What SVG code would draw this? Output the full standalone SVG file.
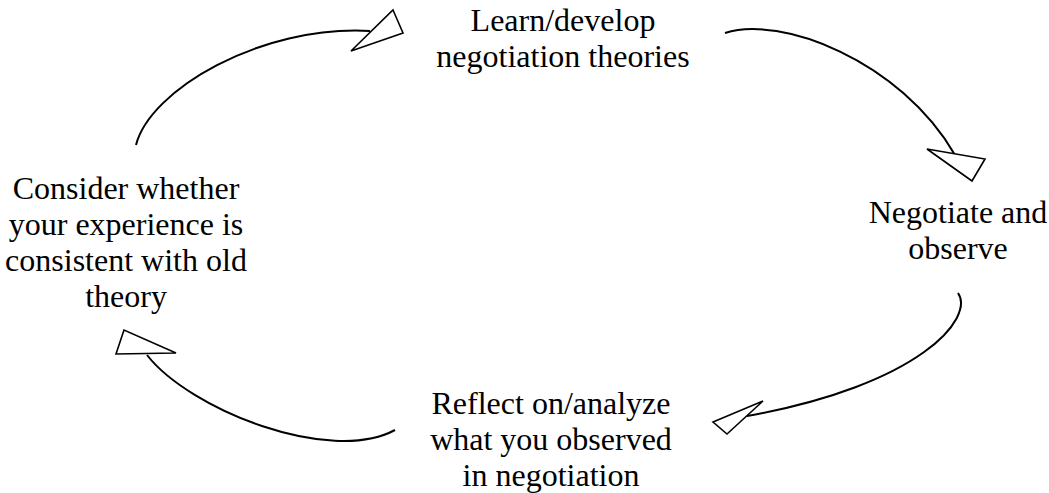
<svg xmlns="http://www.w3.org/2000/svg" width="1049" height="493" viewBox="0 0 1049 493">
<style>
.t{font-family:"Liberation Serif","Times New Roman",serif;font-size:32px;fill:#000;text-anchor:middle}
.c{fill:none;stroke:#000;stroke-width:2}
.h{fill:#fff;stroke:#000;stroke-width:1.6;stroke-linejoin:miter}
</style>
<rect width="1049" height="493" fill="#fff"/>
<g id="connectors">
<path class="c" d="M136,145 C150,90 260,25 370,31"/>
<polygon class="h" points="393,10 403,33 351,51"/>
<path class="c" d="M725,33 C780,15 900,60 955,155"/>
<polygon class="h" points="927,149 985,159 972,181"/>
<path class="c" d="M958,293 C975,318 920,385 747,416"/>
<polygon class="h" points="763,401 713,422 727,434"/>
<path class="c" d="M147,355 C190,410 330,465 395,430"/>
<polygon class="h" points="124,330 116,354 176,353"/>
</g>
<g id="node-learn">
<text class="t" x="563" y="31">Learn/develop</text>
<text class="t" x="563" y="67">negotiation theories</text>
</g>
<g id="node-negotiate">
<text class="t" x="958" y="223">Negotiate and</text>
<text class="t" x="958" y="259">observe</text>
</g>
<g id="node-reflect">
<text class="t" x="551" y="414">Reflect on/analyze</text>
<text class="t" x="551" y="450">what you observed</text>
<text class="t" x="551" y="486">in negotiation</text>
</g>
<g id="node-consider">
<text class="t" x="126" y="199">Consider whether</text>
<text class="t" x="126" y="235">your experience is</text>
<text class="t" x="126" y="271">consistent with old</text>
<text class="t" x="126" y="307">theory</text>
</g>
</svg>
